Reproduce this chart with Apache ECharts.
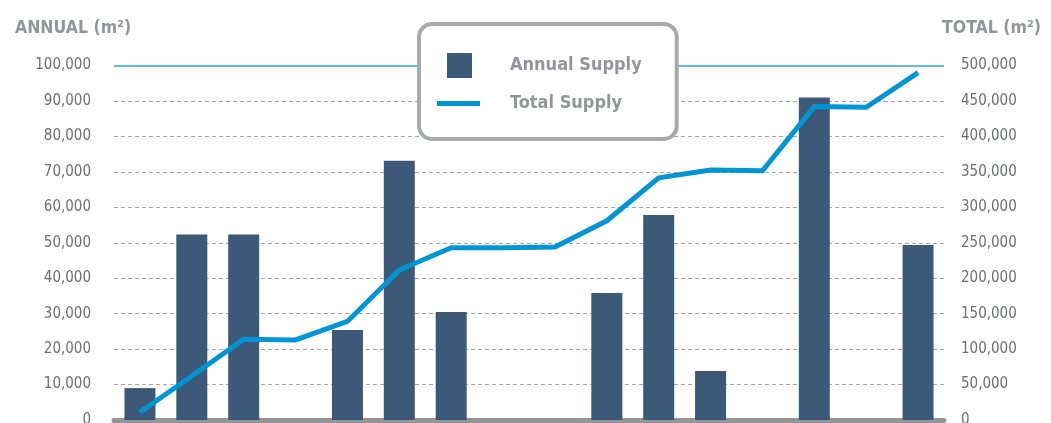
<!DOCTYPE html>
<html>
<head>
<meta charset="utf-8">
<script src="https://cdn.jsdelivr.net/npm/echarts@6/dist/echarts.min.js"></script>
<style>
  html, body { margin: 0; padding: 0; background: #ffffff; overflow: hidden; }
  #chart { width: 1051px; height: 423px; }
</style>
</head>
<body>
<div id="chart"></div>
<script>
// Sixteen periods; years without new supply have no bar.
const periods = ['1', '2', '3', '4', '5', '6', '7', '8', '9', '10', '11', '12', '13', '14', '15', '16'];
const annualSupply = [9000, 52300, 52300, null, 25400, 73100, 30500, null, null, 35800, 57800, 13800, null, 91000, null, 49400];
const totalSupply = [11000, 62000, 114000, 113000, 139000, 211500, 243000, 243000, 244000, 281000, 341500, 352500, 351500, 442000, 441000, 490000];
const annualTicks = { min: 0, max: 100000, interval: 10000 };
const totalTicks = { min: 0, max: 500000, interval: 50000 };

const FONT = '"DejaVu Sans Condensed", "Liberation Sans Narrow", "Roboto", sans-serif';
const BAR = '#3c5a78';
const LINE = '#0096d6';
const CAP_LINE = '#2aa8e2';
const GRID_GREY = '#a6a6a6';
const GREY_TEXT = '#939598';
const TICK_TEXT = '#6d6e71';

const fmt = v => v.toLocaleString('en-US');

const chart = echarts.init(document.getElementById('chart'), null, { renderer: 'canvas' });
chart.setOption({
  animation: false,
  backgroundColor: '#ffffff',
  title: [
    { text: 'ANNUAL (m²)', left: 10, top: 14,
      textStyle: { fontFamily: FONT, fontSize: 17.5, fontWeight: 'bold', color: GREY_TEXT } },
    { text: 'TOTAL (m²)', right: 5, top: 14,
      textStyle: { fontFamily: FONT, fontSize: 17.5, fontWeight: 'bold', color: GREY_TEXT } }
  ],
  legend: {
    orient: 'vertical',
    left: 419,
    top: 24,
    z: 10,
    padding: [29, 35, 23, 18],
    itemGap: 13,
    itemWidth: 68,
    itemHeight: 25,
    backgroundColor: '#ffffff',
    borderColor: '#a7a9ac',
    borderWidth: 4,
    borderRadius: 13,
    textStyle: { fontFamily: FONT, fontSize: 18, fontWeight: 'bold', color: GREY_TEXT },
    data: [
      { name: 'Annual Supply', icon: 'path://M0,0M68,25M10,0H35V25H10Z' },
      { name: 'Total Supply', icon: 'path://M0,0M68,25M0,10H43V15H0Z' }
    ]
  },
  grid: { left: 114, right: 107, top: 65.5, bottom: 3, containLabel: false, outerBoundsMode: 'none' },
  xAxis: {
    type: 'category',
    data: periods,
    boundaryGap: true,
    axisLine: { show: true, lineStyle: { color: '#939598', width: 5 } },
    axisTick: { show: false },
    axisLabel: { show: false },
    splitLine: { show: false }
  },
  yAxis: [
    {
      type: 'value',
      min: annualTicks.min, max: annualTicks.max, interval: annualTicks.interval,
      axisLine: { show: false },
      axisTick: { show: false },
      axisLabel: { margin: 23, fontFamily: FONT, fontSize: 15, color: TICK_TEXT, formatter: fmt },
      // dashed grey grid; the top line is drawn solid blue by the helper axis below
      splitLine: { show: true, showMaxLine: false, lineStyle: { color: GRID_GREY, width: 1, type: [4, 3] } }
    },
    {
      type: 'value',
      min: totalTicks.min, max: totalTicks.max, interval: totalTicks.interval,
      axisLine: { show: false },
      axisTick: { show: false },
      axisLabel: { margin: 17, fontFamily: FONT, fontSize: 15, color: TICK_TEXT, formatter: fmt },
      splitLine: { show: false }
    },
    {
      // helper axis: only its top split line is drawn
      type: 'value',
      min: annualTicks.min, max: annualTicks.max, interval: annualTicks.max,
      axisLine: { show: false },
      axisTick: { show: false },
      axisLabel: { show: false },
      z: 3,
      splitLine: { show: true, showMinLine: false, lineStyle: { color: CAP_LINE, width: 1.5, type: 'solid' } }
    }
  ],
  series: [
    {
      name: 'Annual Supply',
      type: 'bar',
      yAxisIndex: 0,
      data: annualSupply,
      barWidth: 31,
      itemStyle: { color: BAR },
      z: 3
    },
    {
      name: 'Total Supply',
      type: 'line',
      yAxisIndex: 1,
      data: totalSupply,
      showSymbol: false,
      symbol: 'none',
      lineStyle: { color: LINE, width: 5, cap: 'butt', join: 'miter' },
      itemStyle: { color: LINE },
      z: 4
    }
  ]
});
</script>
</body>
</html>
